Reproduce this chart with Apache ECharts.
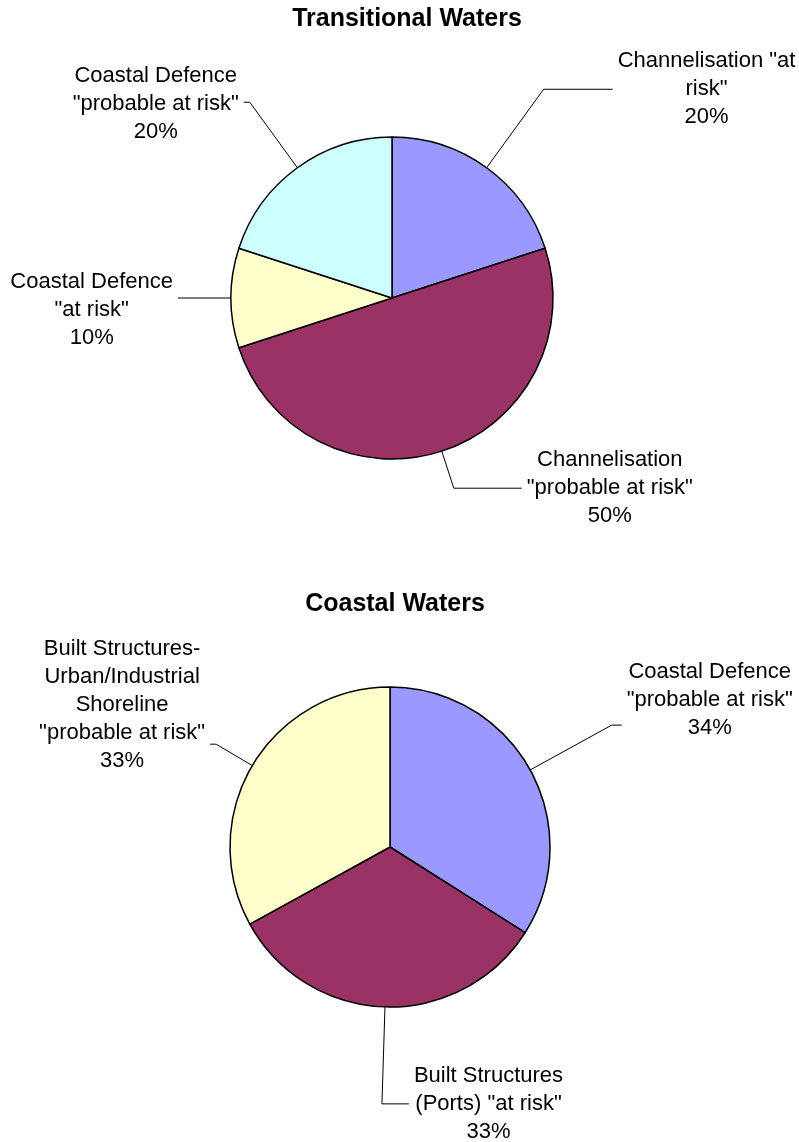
<!DOCTYPE html>
<html><head><meta charset="utf-8">
<script src="https://cdn.jsdelivr.net/npm/echarts@6/dist/echarts.min.js"></script>
<style>html,body{margin:0;padding:0;background:#fff}#chart{width:799px;height:1142px}</style>
</head><body><div id="chart"></div>
<script>
// ---- data ----
const chartTitles = ['Transitional Waters', 'Coastal Waters'];
const transCategories = ['Channelisation "at\nrisk"', 'Channelisation\n"probable at risk"', 'Coastal Defence\n"at risk"', 'Coastal Defence\n"probable at risk"'];
const transValues = [20, 50, 10, 20];
const coastCategories = ['Coastal Defence\n"probable at risk"', 'Built Structures\n(Ports) "at risk"', 'Built Structures-\nUrban/Industrial\nShoreline\n"probable at risk"'];
const coastValues = [34, 33, 33];

// ---- styling ----
const FONT = '"Liberation Sans", Arial, sans-serif';
const palette = ['#9999FF', '#993366', '#FFFFCC', '#CCFFFF'];

function fmt(p) {
  return (p.name + '\n' + p.percent + '%').split('\n').map(s => '{c|' + s + '}').join('\n');
}
function flipBottomLabel(p) {
  const pts = p.labelLinePoints;
  if (!pts) return {};
  const vx = pts[1][0] - pts[0][0], vy = pts[1][1] - pts[0][1];
  if (vy > 0 && Math.abs(vx) < 0.1 * Math.abs(vy)) return { align: 'left' };
  return {};
}
function pieSeries(cats, vals, center, radius, tweaks) {
  return {
    type: 'pie', center: center, radius: radius, startAngle: 90, clockwise: true,
    avoidLabelOverlap: false, percentPrecision: 0, animation: false,
    itemStyle: { borderColor: '#000', borderWidth: 1.5 },
    label: {
      show: true, position: 'outside', formatter: fmt, overflow: 'none', color: '#000',
      fontFamily: FONT, fontSize: 22, lineHeight: 28, distanceToLabelLine: 5,
      rich: { c: { align: 'center', fontFamily: FONT, fontSize: 22, lineHeight: 28, color: '#000' } }
    },
    labelLine: { show: true, smooth: false, minTurnAngle: 0, maxSurfaceAngle: 0, lineStyle: { color: '#000', width: 1 } },
    labelLayout: flipBottomLabel,
    emphasis: { disabled: true },
    data: cats.map((name, i) => ({
      name: name, value: vals[i],
      itemStyle: { color: palette[i % palette.length] },
      labelLine: { length: tweaks[i][0], length2: tweaks[i][1] },
      label: { padding: tweaks[i][2] || 0 }
    }))
  };
}

const chart = echarts.init(document.getElementById('chart'));
chart.setOption({
  animation: false,
  backgroundColor: '#fff',
  title: [
    { text: chartTitles[0], left: 407, top: 7, textAlign: 'center', padding: 0,
      textStyle: { fontFamily: FONT, fontSize: 25, fontWeight: 'bold', color: '#000' } },
    { text: chartTitles[1], left: 395, top: 592, textAlign: 'center', padding: 0,
      textStyle: { fontFamily: FONT, fontSize: 25, fontWeight: 'bold', color: '#000' } }
  ],
  series: [
    pieSeries(transCategories, transValues, [392, 298], 161,
      [[97, 69], [39, 68], [25, 28, [24, 0, 0, 0]], [81, 6, [4, 0, 0, 0]]]),
    pieSeries(coastCategories, coastValues, [390, 847], 160,
      [[93, 10, [0, 0, 50, 0]], [97, -27, [0, 0, 0, 10]], [42, 6, [0, 0, 78, 0]]])
  ]
});
</script>
</body></html>
